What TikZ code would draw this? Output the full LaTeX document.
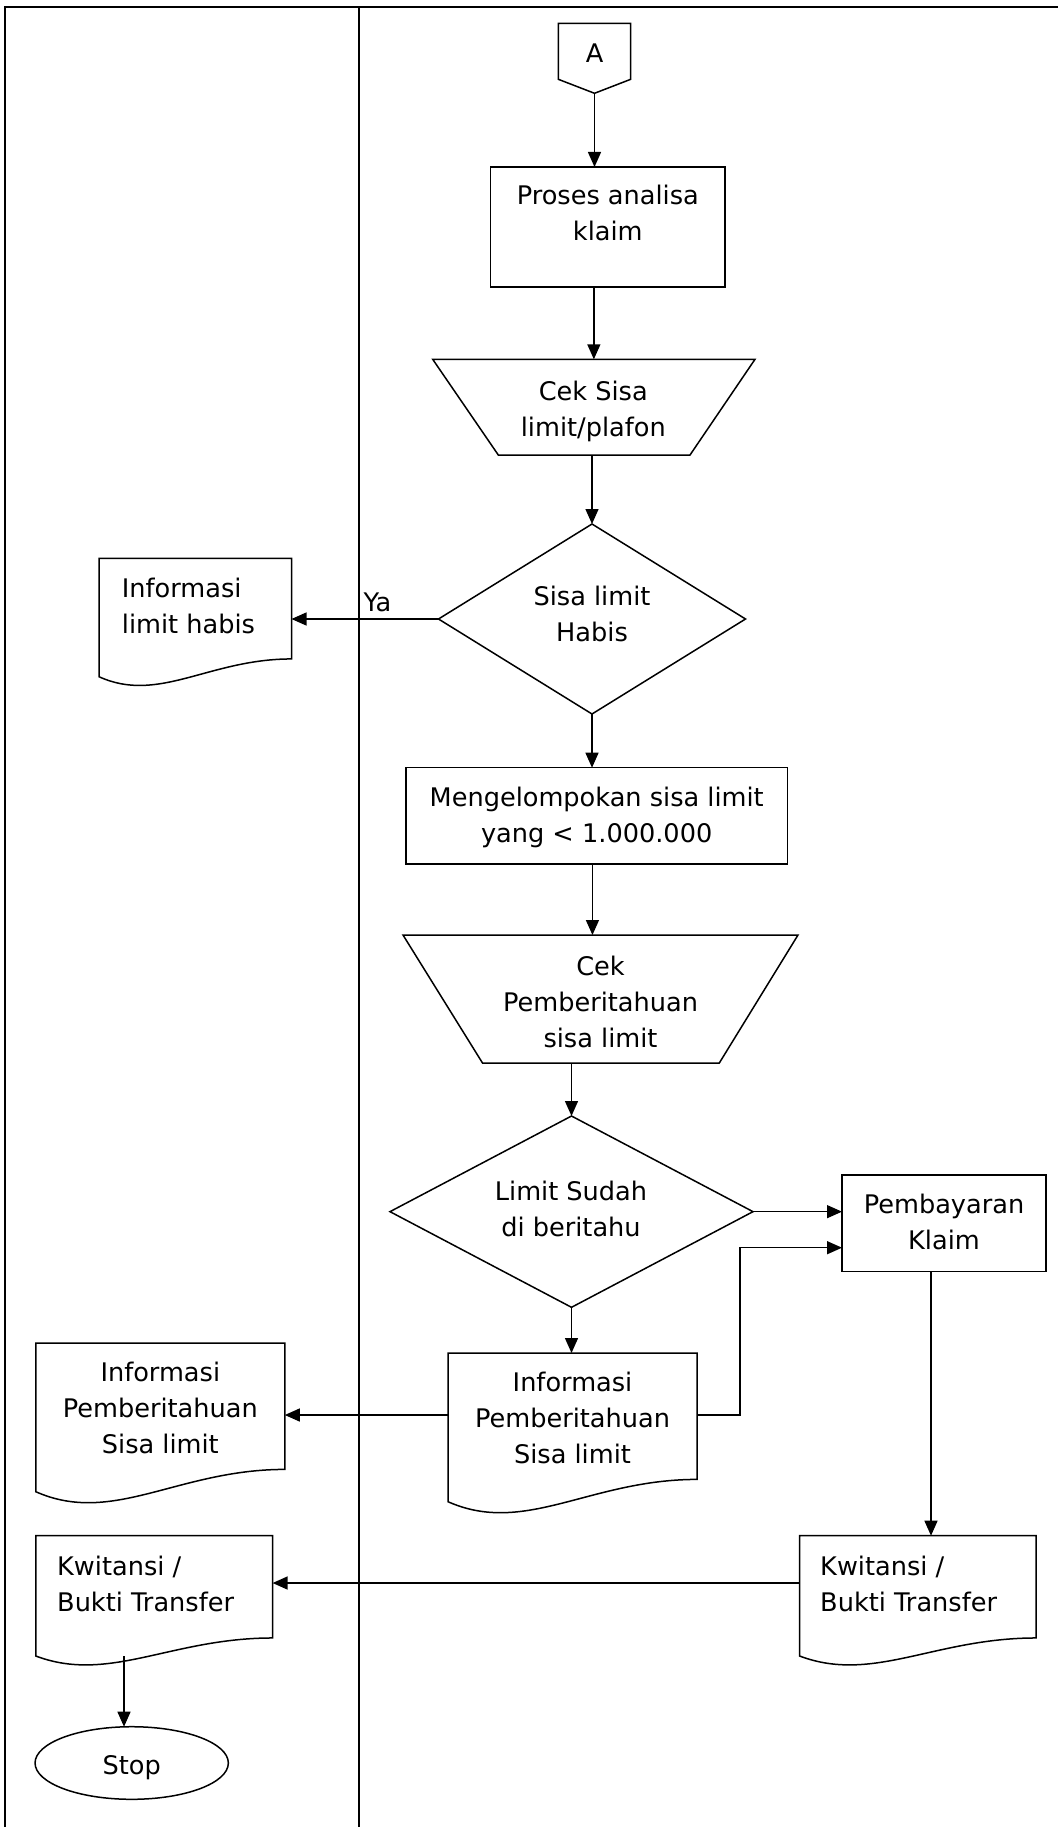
\documentclass[tikz,border=0pt]{standalone}
\usepackage{fontspec}
\setmainfont{DejaVu Sans}
\usetikzlibrary{arrows.meta,shapes.geometric,calc}

\newcommand\flowfont{\fontsize{25.6}{36}\selectfont}

\tikzset{
  shapeline/.style={draw=black, line width=1.5pt, line join=miter},
  holder/.style={inner sep=0pt, outer sep=0pt, draw=none},
  procbox/.style={holder, shapeline, rectangle},
  decision/.style={holder, shapeline, diamond},
  terminal/.style={holder, shapeline, ellipse},
  flow/.style={line width=1.4pt, -{Triangle[length=15pt,width=13pt]}},
  lane/.style={line width=2pt},
  ctext/.style={inner sep=0pt, anchor=north, align=center, font=\flowfont},
  ltext/.style={inner sep=0pt, anchor=north west, align=left, font=\flowfont},
}

% document symbol: name, left x, top y, right x, bottom y (left corner)
\newcommand\docsheet[5]{%
  \pgfmathsetmacro\dsw{#4-#2}%
  \pgfmathsetmacro\dsh{#5-#3}%
  \node[holder, minimum width=\dsw pt, minimum height=\dsh pt] (#1) at ({(#2+#4)/2},{(#3+#5)/2}) {};
  \pgfmathsetmacro\dsyr{#5-0.15*\dsh}%
  \pgfmathsetmacro\dsca{#2+0.57*\dsw}%
  \pgfmathsetmacro\dscb{#2+0.31*\dsw}%
  \pgfmathsetmacro\dscy{#5+0.23*\dsh}%
  \draw[shapeline] (#2,#3) -- (#4,#3) -- (#4,\dsyr)
    .. controls (\dsca,\dsyr) and (\dscb,\dscy) .. (#2,#5) -- cycle;
}

\begin{document}
\begin{tikzpicture}[x=1pt, y=-1pt]
\useasboundingbox (0,0) rectangle (1058,1827);

% swimlane frame
\draw[lane] (5,1827) -- (5,7) -- (1058,7);
\draw[lane] (358.5,7) -- (358.5,1827);

% off-page connector A
\node[holder, minimum width=72.4pt, minimum height=70pt] (conA) at (594.5,58.3) {};
\draw[shapeline] (conA.north west) -- (conA.north east) -- ([yshift=14pt]conA.south east)
  -- (conA.south) -- ([yshift=14pt]conA.south west) -- cycle;
\node[ctext] (tA) at (594.5,37.1) {\strut A};

% process: claim analysis
\node[procbox, minimum width=234.5pt, minimum height=120pt] (proses) at (607.75,227) {};
\node[ctext] (tProses) at (607.8,179.3) {\strut Proses analisa\\klaim};

% manual operation: check remaining limit
\node[holder, minimum width=322.3pt, minimum height=95.7pt] (trap1) at (593.85,407.15) {};
\draw[shapeline] (trap1.north west) -- (trap1.north east) -- ([xshift=-65pt]trap1.south east)
  -- ([xshift=65.6pt]trap1.south west) -- cycle;
\node[ctext] (tTrap1) at (593.3,374.8) {\strut Cek Sisa\\limit/plafon};

% decision: limit used up
\node[decision, minimum width=307pt, minimum height=190pt] (dia1) at (592,619) {};
\node[ctext] (tDia1) at (592,579.8) {\strut Sisa limit\\Habis};

% document: limit used up notice
\docsheet{doc1}{99}{558.3}{291.5}{676.7}
\node[ltext] (tDoc1) at (121.7,572.1) {\strut Informasi\\limit habis};

% process: grouping
\node[procbox, minimum width=381.5pt, minimum height=96.3pt] (box2) at (596.75,815.85) {};
\node[ctext] (tBox2) at (596.7,781.5) {\strut Mengelompokan sisa limit\\yang < 1.000.000};

% manual operation: check notification
\node[holder, minimum width=395pt, minimum height=128pt] (trap2) at (600.5,999) {};
\draw[shapeline] (trap2.north west) -- (trap2.north east) -- ([xshift=-78.7pt]trap2.south east)
  -- ([xshift=79.5pt]trap2.south west) -- cycle;
\node[ctext] (tTrap2) at (600.5,949.8) {\strut Cek\\Pemberitahuan\\sisa limit};

% decision: already notified
\node[decision, minimum width=363pt, minimum height=191.3pt] (dia2) at (571.5,1211.65) {};
\node[ctext] (tDia2) at (571,1174.8) {\strut Limit Sudah\\di beritahu};

% process: claim payment
\node[procbox, minimum width=204pt, minimum height=96.7pt] (pemb) at (944,1223.35) {};
\node[ctext] (tPemb) at (944,1188.1) {\strut Pembayaran\\Klaim};

% notification documents
\docsheet{doc3}{448}{1353}{697}{1501.7}
\node[ctext] (tDoc3) at (572.5,1366.5) {\strut Informasi\\Pemberitahuan\\Sisa limit};
\docsheet{doc2}{35.8}{1343}{284.8}{1491.7}
\node[ctext] (tDoc2) at (160.3,1356.5) {\strut Informasi\\Pemberitahuan\\Sisa limit};

% receipt documents
\docsheet{doc5}{799.6}{1535.7}{1036}{1656}
\node[ltext] (tDoc5) at (820,1549.8) {\strut Kwitansi /\\Bukti Transfer};
\docsheet{doc4}{35.8}{1535.7}{272.6}{1656}
\node[ltext] (tDoc4) at (57,1549.8) {\strut Kwitansi /\\Bukti Transfer};

% terminator
\node[terminal, minimum width=193.3pt, minimum height=72.6pt] (stop) at (131.7,1763) {};
\node[ctext] (tStop) at (131.7,1748.8) {\strut Stop};

% connectors
\draw[flow] (conA.south) -- (conA.south |- proses.north);
\draw[flow] (trap1.north |- proses.south) -- (trap1.north);
\draw[flow] (dia1.north |- trap1.south) -- (dia1.north);
\draw[flow] (dia1.west) -- (dia1.west -| doc1.east);
\node[ltext] (tYa) at (363.3,586.5) {\strut Ya};
\draw[flow] (dia1.south) -- (dia1.south |- box2.north);
\draw[flow] ([xshift=-4.3pt]box2.south) -- ([xshift=-4.3pt]box2.south |- trap2.north);
\draw[flow] (dia2.north |- trap2.south) -- (dia2.north);
\draw[flow] (dia2.east) -- (dia2.east -| pemb.west);
\draw[flow] (dia2.south) -- (dia2.south |- doc3.north);
\draw[flow] ([yshift=12.35pt]doc3.west) -- ([yshift=12.35pt]doc3.west -| doc2.east);
\draw[flow] ([yshift=12.35pt]doc3.east) -- ++(43,0) |- ([yshift=-24.35pt]pemb.west);
\draw[flow] ([xshift=-13pt]pemb.south) -- ([xshift=-13pt]pemb.south |- doc5.north);
\draw[flow] ([yshift=12.85pt]doc5.west) -- ([yshift=12.85pt]doc5.west -| doc4.east);
\draw[flow] ([xshift=-7.7pt]stop.north |- doc4.south) -- ([xshift=-7.7pt]stop.north);
\end{tikzpicture}
\end{document}
